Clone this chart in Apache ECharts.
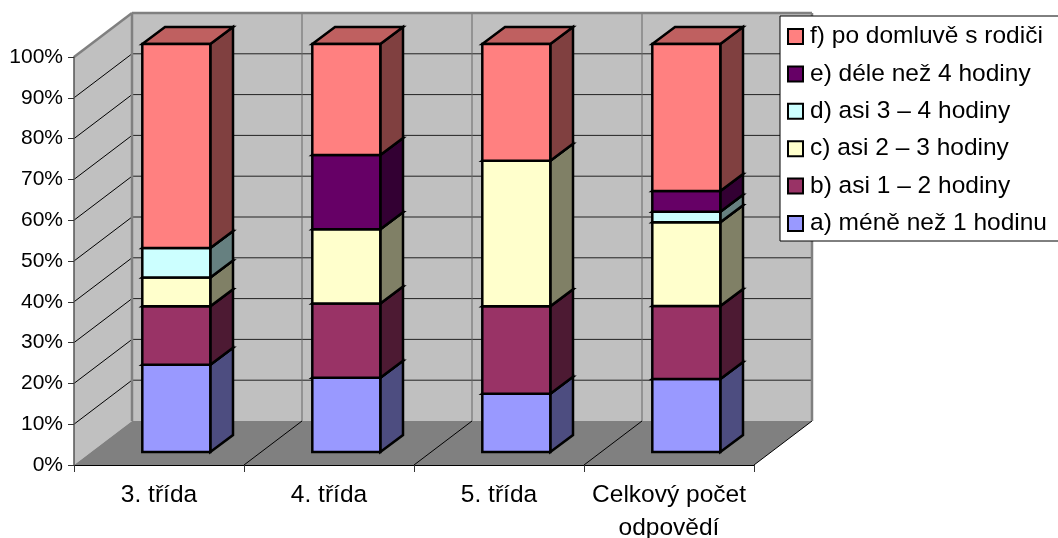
<!DOCTYPE html>
<html><head><meta charset="utf-8">
<style>html,body{margin:0;padding:0;background:#fff}#c{width:1058px;height:538px}</style>
<script src="https://cdn.jsdelivr.net/npm/echarts@6/dist/echarts.min.js"></script>
</head><body><div id="c"></div>
<script>
const categories = ['3. třída', '4. třída', '5. třída', 'Celkový počet\nodpovědí'];
const seriesNames = ['a) méně než 1 hodinu','b) asi 1 – 2 hodiny','c) asi 2 – 3 hodiny','d) asi 3 – 4 hodiny','e) déle než 4 hodiny','f) po domluvě s rodiči'];
const lessThan1 = [21.4, 18.2, 14.3, 17.9];
const from1to2  = [14.3, 18.2, 21.4, 17.9];
const from2to3  = [7.1, 18.2, 35.7, 20.5];
const from3to4  = [7.2, 0, 0, 2.6];
const over4     = [0, 18.2, 0, 5.1];
const byAgreement = [50, 27.2, 28.6, 36];
const seriesValues = [lessThan1, from1to2, from2to3, from3to4, over4, byAgreement];
const frontColors = ['#9999FF','#993366','#FFFFCC','#CCFFFF','#660066','#FF8080'];
const sideColors  = ['#4D4D80','#4D1A33','#808066','#668080','#330033','#804040'];
const topColors   = ['#7373BF','#73264D','#BFBF99','#99BFBF','#4D004D','#BF6060'];
const yTicks = [0,10,20,30,40,50,60,70,80,90,100];

const DX = 58, DY = -44;             // wall depth
const FX = 17.3, FY = -13;           // bar front-plane offset
const BDX = 22.7, BDY = -17;         // bar depth
const BAR = 0.4;

function poly(pts, fill, stroke, lw) {
  return {type:'polygon', shape:{points:pts}, style:{fill:fill, stroke:stroke||null, lineWidth:lw||0, lineJoin:'miter', miterLimit:4}};
}
function line(a, b, c, w) {
  return {type:'line', shape:{x1:a[0],y1:a[1],x2:b[0],y2:b[1]}, style:{stroke:c, lineWidth:w, fill:null}};
}
function renderWalls(params, api) {
  const w = api.size([1,0])[0];
  const x0 = api.coord([0,0])[0] - w/2, x1 = x0 + w*categories.length;
  const y0 = api.coord([0,0])[1], y1 = api.coord([0,100])[1];
  const ch = [];
  ch.push(poly([[x0,y1],[x0+DX,y1+DY],[x0+DX,y0+DY],[x0,y0]], '#C0C0C0'));
  ch.push(poly([[x0+DX,y1+DY],[x1+DX,y1+DY],[x1+DX,y0+DY],[x0+DX,y0+DY]], '#C0C0C0'));
  ch.push(poly([[x0,y0],[x1,y0],[x1+DX,y0+DY],[x0+DX,y0+DY]], '#808080'));
  yTicks.slice(1,-1).forEach(t => {
    const y = api.coord([0,t])[1];
    ch.push(line([x0,y],[x0+DX,y+DY],'#000',1));
    ch.push(line([x0+DX,y+DY],[x1+DX,y+DY],'#222',1));
  });
  for (let i = 1; i < categories.length; i++) {
    const x = x0 + i*w;
    ch.push(line([x+DX,y1+DY],[x+DX,y0+DY],'#666',1));
    ch.push(line([x,y0],[x+DX,y0+DY],'#000',1));
  }
  ch.push(line([x1,y0],[x1+DX,y0+DY],'#000',1));
  ch.push(line([x0,y1],[x0+DX,y1+DY],'#808080',2.5));
  ch.push(line([x0+DX,y1+DY],[x1+DX,y1+DY],'#808080',2.5));
  ch.push(line([x0+DX,y1+DY],[x0+DX,y0+DY],'#808080',2.5));
  ch.push(line([x1+DX,y1+DY],[x1+DX,y0+DY],'#808080',2.5));
  return {type:'group', children:ch};
}
function makeRender(s) {
  return function (params, api) {
    const i = api.value(0), lo = api.value(1), hi = api.value(2);
    if (hi - lo <= 0) return null;
    const w = api.size([1,0])[0] * BAR;
    const cx = api.coord([i,0])[0] + FX;
    const l = cx - w/2, r = cx + w/2;
    const yb = api.coord([i,lo])[1] + FY, yt = api.coord([i,hi])[1] + FY;
    const st = '#000', lw = 2.5;
    return {type:'group', children:[
      poly([[r,yb],[r+BDX,yb+BDY],[r+BDX,yt+BDY],[r,yt]], sideColors[s], st, lw),
      poly([[l,yt],[r,yt],[r+BDX,yt+BDY],[l+BDX,yt+BDY]], topColors[s], st, lw),
      poly([[l,yb],[r,yb],[r,yt],[l,yt]], frontColors[s], st, lw)
    ]};
  };
}
const running = categories.map(() => 0);
const barSeries = seriesNames.map((name, s) => ({
  type:'custom', name, z:3, renderItem:makeRender(s),
  encode:{x:0, y:[1,2]},
  itemStyle:{color:frontColors[s], borderColor:'#000', borderWidth:2},
  data: seriesValues[s].map((v, i) => { const lo = running[i]; running[i] += v; return [i, lo, running[i]]; })
}));
const font = 'Liberation Sans, Arial, sans-serif';
const chart = echarts.init(document.getElementById('c'));
chart.setOption({
  animation:false,
  backgroundColor:'#fff',
  grid:{left:74, top:57, width:680, height:408, outerBoundsMode:'none'},
  xAxis:{type:'category', data:categories, z:5,
    axisLine:{lineStyle:{color:'#000',width:1}},
    axisTick:{show:true, alignWithLabel:false, length:7, lineStyle:{color:'#333',width:1}},
    axisLabel:{color:'#000', fontFamily:font, fontSize:24.5, lineHeight:33, margin:14, interval:0},
    splitLine:{show:false}},
  yAxis:{type:'value', min:0, max:100, interval:10, z:5,
    axisLine:{show:true, lineStyle:{color:'#555',width:1.5}},
    axisTick:{show:true, length:6, lineStyle:{color:'#333',width:1}},
    axisLabel:{color:'#000', fontFamily:font, fontSize:21, margin:11, formatter:'{value}%'},
    splitLine:{show:false}},
  legend:{orient:'vertical', left:780, top:16,
    data:seriesNames.slice().reverse(),
    backgroundColor:'#fff', borderColor:'#000', borderWidth:1,
    padding:[8,14,5,7], itemWidth:15, itemHeight:15, itemGap:12.4, icon:'rect',
    selectedMode:false,
    itemStyle:{borderColor:'#000', borderWidth:2},
    textStyle:{color:'#000', fontFamily:font, fontSize:24.5, lineHeight:24, padding:[0,0,0,2]}},
  series:[{type:'custom', name:'walls', z:1, silent:true, renderItem:renderWalls, encode:{x:0,y:1}, data:[[0,0]]}].concat(barSeries)
});
</script></body></html>
